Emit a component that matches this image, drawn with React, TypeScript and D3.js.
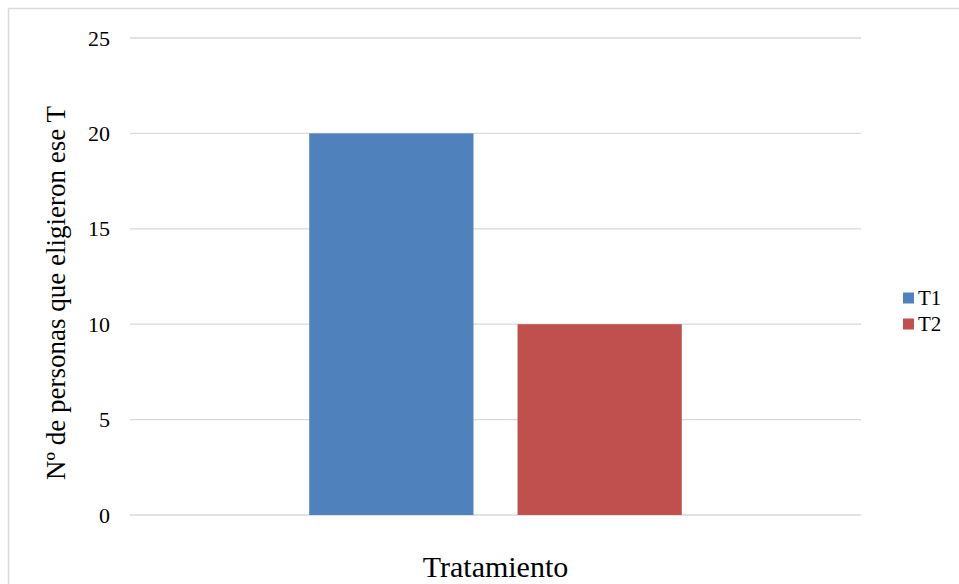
import React from "react";
import * as d3 from "d3";

const categories = ["Tratamiento"];
const seriesNames = ["T1", "T2"];
const seriesValues = [[20], [10]];
const seriesColors = ["#4F81BD", "#C0504D"];
const yTicks = [0, 5, 10, 15, 20, 25];
const yLabel = "Nº de personas que eligieron ese T";

const W = 959;
const H = 584;
const plot = { left: 130, right: 861, top: 38, bottom: 515 };
const FONT = "'Liberation Serif', 'Times New Roman', serif";

export default function App() {
  const y = d3.scaleLinear().domain([0, 25]).range([plot.bottom, plot.top]);
  const x0 = d3
    .scaleBand<string>()
    .domain(categories)
    .range([plot.left, plot.right])
    .paddingInner(0)
    .paddingOuter(0.481);
  const x1 = d3
    .scaleBand<string>()
    .domain(seriesNames)
    .range([0, x0.bandwidth()])
    .paddingInner(0.2115)
    .paddingOuter(0);

  return (
    <svg
      width={W}
      height={H}
      style={{ position: "absolute", left: 0, top: 0, display: "block", fontFamily: FONT }}
    >
      <rect x={0} y={0} width={W} height={H} fill="#ffffff" />
      <rect
        x={8.5}
        y={8.5}
        width={W + 20}
        height={H + 20}
        fill="none"
        stroke="#d9d9d9"
        strokeWidth={1.5}
      />
      {yTicks.map((t) => (
        <g key={t}>
          <line
            x1={plot.left}
            x2={plot.right}
            y1={y(t)}
            y2={y(t)}
            stroke="#d9d9d9"
            strokeWidth={1.3}
          />
          <text
            x={110}
            y={y(t)}
            textAnchor="end"
            dominantBaseline="central"
            fontSize={22}
            fontFamily={FONT}
            fill="#000"
          >
            {t}
          </text>
        </g>
      ))}
      {categories.map((c, ci) => (
        <g key={c} transform={`translate(${x0(c)},0)`}>
          {seriesNames.map((s, si) => (
            <rect
              key={s}
              x={x1(s)}
              y={y(seriesValues[si][ci])}
              width={x1.bandwidth()}
              height={y(0) - y(seriesValues[si][ci])}
              fill={seriesColors[si]}
            />
          ))}
          <text
            x={x0.bandwidth() / 2}
            y={577}
            textAnchor="middle"
            fontSize={30}
            fontFamily={FONT}
            fill="#000"
          >
            {c}
          </text>
        </g>
      ))}
      <text
        transform={`translate(65, 293) rotate(-90)`}
        textAnchor="middle"
        fontSize={27}
        fontFamily={FONT}
        fill="#000"
      >
        {yLabel}
      </text>
      {seriesNames.map((s, i) => (
        <g key={s} transform={`translate(903, ${298 + i * 26})`}>
          <rect x={0} y={-5.5} width={11} height={11} fill={seriesColors[i]} />
          <text
            x={15}
            y={0}
            dominantBaseline="central"
            fontSize={21}
            fontFamily={FONT}
            fill="#000"
          >
            {s}
          </text>
        </g>
      ))}
    </svg>
  );
}
